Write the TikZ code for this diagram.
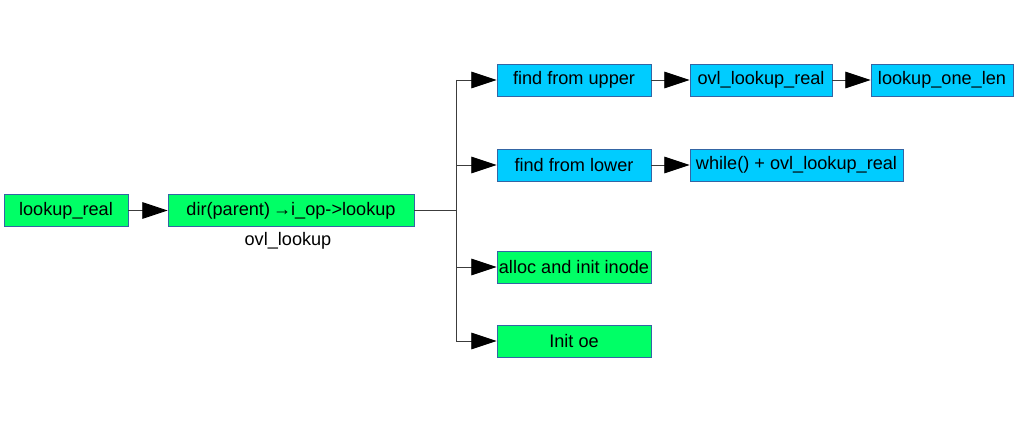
\documentclass[tikz,border=0pt]{standalone}
\usepackage{fontspec}
\setmainfont{Liberation Sans}
\usetikzlibrary{arrows.meta}

\definecolor{boxgreen}{RGB}{0,255,102}
\definecolor{boxblue}{RGB}{0,204,255}
\definecolor{boxline}{RGB}{52,101,164}
\definecolor{wire}{RGB}{60,60,60}

\tikzset{
    fn/.style={draw=boxline, line width=0.6pt, inner sep=0pt, minimum height=24pt, font=\fontsize{13.6}{16}\selectfont},
    greenfn/.style={fn, fill=boxgreen},
    bluefn/.style={fn, fill=boxblue},
    arr/.style={draw=wire, line width=0.7pt, -{Triangle[length=19pt,width=12.5pt,color=black,fill=black]}}
}

\begin{document}
\begin{tikzpicture}[x=0.75pt, y=-0.75pt]
    \useasboundingbox (0,0) rectangle (1034,441);

    % caller side
    \node[greenfn, minimum width=93pt] (real) at (66,210.5) {lookup\_real};
    \node[greenfn, minimum width=184.5pt] (dirop) at (291,210.5) {dir(parent)\,→i\_op->lookup};
    \node[font=\fontsize{13.6}{16}\selectfont] (ovl) at (288,241) {ovl\_lookup};
    \draw[arr] (real) -- (dirop);

    % the four steps of ovl_lookup
    \node[bluefn, minimum width=115.5pt] (upper) at (574,80) {find from upper};
    \node[bluefn, minimum width=115.5pt] (lower) at (574,165) {find from lower};
    \node[greenfn, minimum width=115.5pt] (alloc) at (574,267) {alloc and init inode};
    \node[greenfn, minimum width=115.5pt] (oe) at (574,341) {Init oe};

    % next calls
    \node[bluefn, minimum width=106.5pt] (ovlreal) at (761,80) {ovl\_lookup\_real};
    \node[bluefn, minimum width=106.5pt] (onelen) at (942,80) {lookup\_one\_len};
    \node[bluefn, minimum width=159.75pt] (loop) at (796.5,165) {while() + ovl\_lookup\_real};

    % fork
    \coordinate (fork) at (456,210.5);
    \draw[draw=wire, line width=0.7pt] (dirop.east) -- (fork);
    \draw[draw=wire, line width=0.7pt] (fork |- upper.west) -- (fork |- oe.west);
    \foreach \n in {upper,lower,alloc,oe}
        \draw[arr] (fork |- \n.west) -- (\n.west);

    \draw[arr] (upper) -- (ovlreal);
    \draw[arr] (ovlreal) -- (onelen);
    \draw[arr] (lower) -- (loop);
\end{tikzpicture}
\end{document}
